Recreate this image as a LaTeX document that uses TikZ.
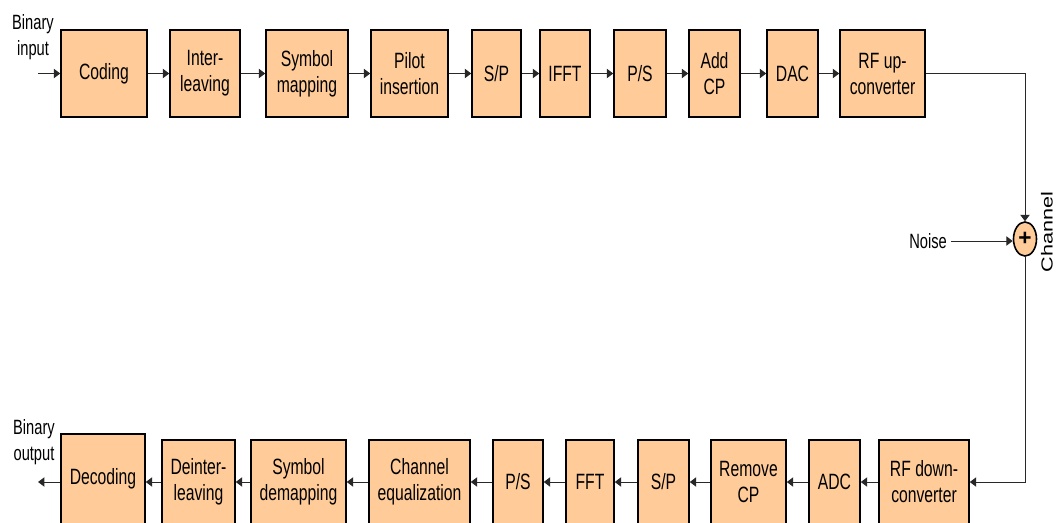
\documentclass[tikz,border=0pt]{standalone}
\usepackage{fontspec}
\usetikzlibrary{arrows.meta,shapes.geometric}
\newfontfamily\blockfont{Liberation Sans}[FakeStretch=0.71]
\newfontfamily\chanfont{Liberation Sans}[FakeStretch=1.35]
\newfontfamily\plusfont{Liberation Sans}
\definecolor{peach}{RGB}{255,204,153}
\definecolor{wire}{RGB}{40,40,40}
\tikzset{
  blockbox/.style={draw=black, line width=1.2pt, fill=peach, align=center,
    inner sep=0pt, minimum width={(#1)*0.75pt},
    font=\blockfont\fontsize{16.6}{19.5}\selectfont},
  flow/.style={-{Triangle[length=4.8pt,width=7pt]}, draw=wire, line width=0.75pt},
  wirelabel/.style={align=center, font=\blockfont\fontsize{15.5}{19.5}\selectfont}
}
\begin{document}
\begin{tikzpicture}[x=0.75pt,y=-0.75pt]
  \useasboundingbox (0,0) rectangle (1057,522);
  % transmitter
  \foreach \n/\xa/\xb/\txt in {coding/61/147/Coding, intlv/170/240/{Inter-\\leaving},
      smap/266/348/{Symbol\\mapping}, pilot/371/448/{Pilot\\insertion}, spa/472/521/{S/P},
      ifft/540/590/IFFT, psa/614/666/{P/S}, addcp/689/740/{Add\\CP}, dac/767/818/DAC,
      rfup/840/925/{RF up-\\converter}}
    \node[blockbox=\xb-\xa, minimum height=65.25pt] (\n) at ({(\xa+\xb)/2},73.5) {\txt};
  % receiver
  \foreach \n/\xa/\xb/\txt in {deint/162/235/{Deinter-\\leaving},
      sdemap/251/346/{Symbol\\demapping}, equal/369/470/{Channel\\equalization},
      psb/493/543/{P/S}, fft/566/614/FFT, spb/638/689/{S/P}, rmcp/711/786/{Remove\\CP},
      adc/809/860/ADC, rfdown/879/969/{RF down-\\converter}}
    \node[blockbox=\xb-\xa, minimum height=63pt] (\n) at ({(\xa+\xb)/2},482) {\txt};
  \node[blockbox=84, minimum height=67.5pt] (decod) at (103,479) {Decoding};

  % channel
  \node[ellipse, draw=black, line width=1.2pt, fill=peach, inner sep=0pt,
    minimum width=17.25pt, minimum height=25.5pt] (sum) at (1025,239)
    {\plusfont\fontsize{17}{17}\selectfont\bfseries +};
  \node[wirelabel] (noise) at (928,241) {Noise};
  \node[rotate=90, font=\chanfont\fontsize{12}{12}\selectfont] (chan) at (1047,232) {Channel};
  \node[wirelabel] (bin) at (33,37) {Binary\\input};
  \node[wirelabel] (bout) at (34,442) {Binary\\output};
  \coordinate (src) at (38,73.5);
  \coordinate (sink) at (38,482);

  \draw[flow] (src) -- (coding);
  \foreach \a/\b in {coding/intlv, intlv/smap, smap/pilot, pilot/spa, spa/ifft,
      ifft/psa, psa/addcp, addcp/dac, dac/rfup}
    \draw[flow] (\a) -- (\b);
  \draw[flow] (rfup.east) -| (sum.north);
  \draw[flow] (noise.east) -- (noise.east -| sum.west);
  \draw[flow] (sum.south) |- (rfdown.east);
  \foreach \a/\b in {rfdown/adc, adc/rmcp, rmcp/spb, spb/fft, fft/psb, psb/equal,
      equal/sdemap, sdemap/deint}
    \draw[flow] (\a) -- (\b);
  \draw[flow] (deint.west) -- (deint.west -| decod.east);
  \draw[flow] (decod.west |- sink) -- (sink);
\end{tikzpicture}
\end{document}
